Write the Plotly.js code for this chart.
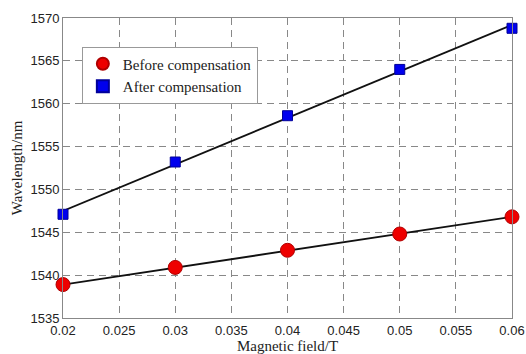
<!DOCTYPE html>
<html>
<head>
<meta charset="utf-8">
<script src="https://cdn.plot.ly/plotly-3.0.1.min.js"></script>
<style>html,body{margin:0;padding:0;background:#fff;}#chart{width:526px;height:354px;}</style>
</head>
<body>
<div id="chart"></div>
<script>
const field = [0.02, 0.03, 0.04, 0.05, 0.06];
const before = [1538.9, 1540.9, 1542.9, 1544.8, 1546.8];
const after = [1547.1, 1553.2, 1558.6, 1564.0, 1568.8];
const fitField = [0.02, 0.06];
const beforeFit = [1538.9, 1546.8];
const afterFit = [1547.5, 1569.2];
const xTicks = [0.02, 0.025, 0.03, 0.035, 0.04, 0.045, 0.05, 0.055, 0.06];
const xTickText = ['0.02', '0.025', '0.03', '0.035', '0.04', '0.045', '0.05', '0.055', '0.06'];
const yTicks = [1535, 1540, 1545, 1550, 1555, 1560, 1565, 1570];

const traces = [
  {x: fitField, y: beforeFit, mode: 'lines', line: {color: '#111', width: 1.8}, showlegend: false, hoverinfo: 'skip'},
  {x: fitField, y: afterFit, mode: 'lines', line: {color: '#111', width: 1.8}, showlegend: false, hoverinfo: 'skip'},
  {x: field, y: before, mode: 'markers', name: 'Before compensation',
   marker: {symbol: 'circle', size: 14, color: '#ee0000', line: {color: '#b00000', width: 1}}, cliponaxis: false},
  {x: field, y: after, mode: 'markers', name: 'After compensation',
   marker: {symbol: 'square', size: 10, color: '#0000ee', line: {color: '#000099', width: 1}}, cliponaxis: false}
];

const gridStyle = {showgrid: true, gridcolor: '#888', griddash: '7px,5px', gridwidth: 1};

const layout = {
  width: 526, height: 354,
  margin: {l: 63, r: 14, t: 18, b: 36},
  paper_bgcolor: '#fff', plot_bgcolor: '#fff',
  font: {family: 'Liberation Sans, Arial, sans-serif', size: 13, color: '#222'},
  xaxis: Object.assign({
    range: [0.02, 0.06], tickvals: xTicks, ticktext: xTickText,
    showline: true, linecolor: '#888', linewidth: 1, mirror: true,
    zeroline: false, ticks: '', ticklen: 0,
    tickfont: {family: 'Liberation Sans, Arial, sans-serif', size: 13, color: '#222'},
    title: {text: 'Magnetic field/T', font: {family: 'Liberation Serif, Times New Roman, serif', size: 15, color: '#222'}, standoff: 4}
  }, gridStyle),
  yaxis: Object.assign({
    range: [1535, 1570], tickvals: yTicks,
    showline: true, linecolor: '#888', linewidth: 1, mirror: true,
    zeroline: false, ticks: '', ticklen: 0,
    tickfont: {family: 'Liberation Sans, Arial, sans-serif', size: 13, color: '#222'},
    title: {text: 'Wavelength/nm', font: {family: 'Liberation Serif, Times New Roman, serif', size: 15, color: '#222'}, standoff: 4}
  }, gridStyle),
  legend: {
    x: 0.042, y: 0.905, xanchor: 'left', yanchor: 'top',
    bgcolor: '#fff', bordercolor: '#999', borderwidth: 1,
    font: {family: 'Liberation Serif, Times New Roman, serif', size: 15, color: '#222'},
    tracegroupgap: 0, itemsizing: 'constant', traceorder: 'normal'
  },
  showlegend: true
};

Plotly.newPlot('chart', traces, layout, {displayModeBar: false, staticPlot: true});
</script>
</body>
</html>
